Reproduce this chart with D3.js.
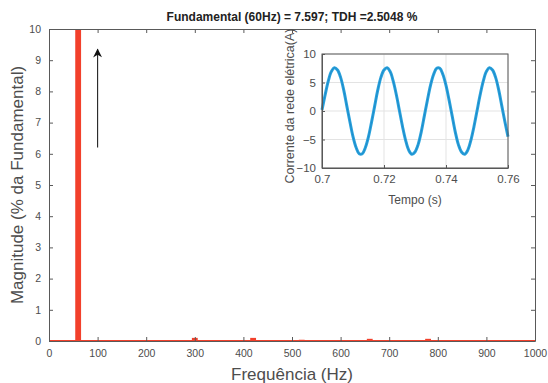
<!DOCTYPE html>
<html>
<head>
<meta charset="utf-8">
<style>
  body { margin: 0; background: #fff; }
  svg text { font-family: "Liberation Sans", Arial, sans-serif; }
</style>
</head>
<body>
  <div id="chart"></div>
  <script src="https://cdn.jsdelivr.net/npm/d3@7"></script>
  <script>
    // espectro harmonico (Hz, % da fundamental)
    var freqs = [20, 60, 160, 260, 300, 340, 420, 520, 660, 760, 780, 880, 940];
    var mags = [0.02, 100, 0.02, 0.02, 0.10, 0.02, 0.10, 0.04, 0.07, 0.03, 0.07, 0.03, 0.02];
    var freqTicks = [0, 100, 200, 300, 400, 500, 600, 700, 800, 900, 1000];
    var magTicks = [0, 1, 2, 3, 4, 5, 6, 7, 8, 9, 10];

    // corrente da rede, amostras a cada 1 ms de 0.70 a 0.76 s
    var tempo = d3.range(0, 61).map(function(k){ return +(0.7 + k * 0.001).toFixed(3); });
    var corrente = [0.2, 2.8, 5.2, 6.9, 7.6, 7.2, 5.9, 3.7, 0.9, -1.9,
                    -4.5, -6.4, -7.5, -7.5, -6.4, -4.5, -1.9, 0.9, 3.7, 5.9,
                    7.2, 7.6, 6.9, 5.2, 2.8, 0.0, -2.8, -5.2, -6.9, -7.6,
                    -7.2, -5.9, -3.7, -0.9, 1.9, 4.5, 6.4, 7.5, 7.5, 6.4,
                    4.5, 1.9, -0.9, -3.7, -5.9, -7.2, -7.6, -6.9, -5.2, -2.8,
                    0.0, 2.8, 5.2, 6.9, 7.6, 7.2, 5.9, 3.7, 0.9, -1.9, -4.5];
    var tempoTicks = [0.7, 0.72, 0.74, 0.76];
    var correnteTicks = [-10, -5, 0, 5, 10];

    var width = 548, height = 383;
    var axisColor = '#595959', labelColor = '#4d4d4d';

    var svg = d3.select('#chart').append('svg')
      .attr('width', width)
      .attr('height', height);

    // ---- grafico principal ----
    var mL = 49, mR = 535, mT = 29, mB = 341;
    var x = d3.scaleLinear().domain([0, 1000]).range([mL, mR]);
    var y = d3.scaleLinear().domain([0, 10]).range([mB, mT]);

    svg.append('clipPath').attr('id', 'mainclip')
      .append('rect').attr('x', mL).attr('y', mT)
      .attr('width', mR - mL).attr('height', mB - mT);

    var barW = x(12) - x(0);
    svg.append('g').attr('clip-path', 'url(#mainclip)')
      .selectAll('rect')
      .data(freqs)
      .enter()
      .append('rect')
      .attr('x', function(d){ return x(d) - barW / 2; })
      .attr('width', barW)
      .attr('y', function(d, i){ return y(Math.min(mags[i], 10.5)); })
      .attr('height', function(d, i){ return y(0) - y(Math.min(mags[i], 10.5)); })
      .attr('fill', '#f2402b');

    // linha de base vermelha
    svg.append('line')
      .attr('x1', x(0)).attr('x2', x(1000))
      .attr('y1', y(0) - 0.5).attr('y2', y(0) - 0.5)
      .attr('stroke', '#f2402b').attr('stroke-width', 1.2);

    var xAxis = d3.axisBottom(x).tickValues(freqTicks).tickSizeInner(-4).tickSizeOuter(0).tickPadding(9).tickFormat(d3.format('d'));
    var yAxis = d3.axisLeft(y).tickValues(magTicks).tickSizeInner(-4).tickSizeOuter(0).tickPadding(8);

    svg.append('g').attr('transform', 'translate(0,' + mB + ')').call(xAxis);
    svg.append('g').attr('transform', 'translate(' + mL + ',0)').call(yAxis);
    svg.append('g').attr('transform', 'translate(0,' + mT + ')')
      .call(d3.axisTop(x).tickValues(freqTicks).tickSizeInner(-4).tickSizeOuter(0).tickFormat(''));
    svg.append('g').attr('transform', 'translate(' + mR + ',0)')
      .call(d3.axisRight(y).tickValues(magTicks).tickSizeInner(-4).tickSizeOuter(0).tickFormat(''));

    svg.selectAll('.domain').attr('stroke', axisColor);
    svg.selectAll('.tick line').attr('stroke', axisColor);
    svg.selectAll('.tick text').attr('fill', labelColor).style('font-size', '10.5px');

    // seta
    svg.append('defs').append('marker')
      .attr('id', 'head').attr('viewBox', '0 0 10 10')
      .attr('refX', 9).attr('refY', 5)
      .attr('markerWidth', 10).attr('markerHeight', 9)
      .attr('markerUnits', 'userSpaceOnUse')
      .attr('orient', 'auto')
      .append('path').attr('d', 'M0,0 L10,5 L0,10 L3,5 z').attr('fill', '#111');
    svg.append('line')
      .attr('x1', x(100)).attr('x2', x(100))
      .attr('y1', y(6.2)).attr('y2', y(9.35))
      .attr('stroke', '#222').attr('stroke-width', 1.1)
      .attr('marker-end', 'url(#head)');

    svg.append('text')
      .attr('x', (mL + mR) / 2).attr('y', 21)
      .attr('text-anchor', 'middle')
      .style('font-size', '12px').style('font-weight', 'bold')
      .attr('fill', '#222')
      .text('Fundamental (60Hz) = 7.597; TDH =2.5048 %');

    svg.append('text')
      .attr('x', (mL + mR) / 2).attr('y', 380)
      .attr('text-anchor', 'middle')
      .style('font-size', '17px')
      .attr('fill', labelColor)
      .text('Frequência (Hz)');

    svg.append('text')
      .attr('transform', 'translate(23,' + (mT + mB) / 2 + ') rotate(-90)')
      .attr('text-anchor', 'middle')
      .style('font-size', '17px')
      .attr('fill', labelColor)
      .text('Magnitude (% da Fundamental)');

    // ---- grafico interno ----
    var iL = 322, iR = 508, iT = 54, iB = 168;
    var xi = d3.scaleLinear().domain([0.7, 0.76]).range([iL, iR]);
    var yi = d3.scaleLinear().domain([-10, 10]).range([iB, iT]);

    var inset = svg.append('g');
    inset.append('rect').attr('x', iL).attr('y', iT)
      .attr('width', iR - iL).attr('height', iB - iT).attr('fill', '#fff');

    // grade
    inset.selectAll('.gx').data(tempoTicks).enter().append('line')
      .attr('x1', function(d){ return xi(d); }).attr('x2', function(d){ return xi(d); })
      .attr('y1', iT).attr('y2', iB).attr('stroke', '#e3e3e3');
    inset.selectAll('.gy').data(correnteTicks).enter().append('line')
      .attr('y1', function(d){ return yi(d); }).attr('y2', function(d){ return yi(d); })
      .attr('x1', iL).attr('x2', iR).attr('stroke', '#e3e3e3');

    var line = d3.line()
      .x(function(d, i){ return xi(tempo[i]); })
      .y(function(d){ return yi(d); })
      .curve(d3.curveCatmullRom);
    inset.append('path').datum(corrente)
      .attr('d', line).attr('fill', 'none')
      .attr('stroke', '#2aa2dc').attr('stroke-width', 3);
    inset.append('path').datum(corrente)
      .attr('d', line).attr('fill', 'none')
      .attr('stroke', '#1a86c6').attr('stroke-width', 0.8);

    var ixAxis = d3.axisBottom(xi).tickValues(tempoTicks).tickSizeInner(-3).tickSizeOuter(0).tickPadding(7)
      .tickFormat(function(d){ return d === 0.7 ? '0.7' : d3.format('.2f')(d); });
    var iyAxis = d3.axisLeft(yi).tickValues(correnteTicks).tickSizeInner(-3).tickSizeOuter(0).tickPadding(6);
    inset.append('g').attr('transform', 'translate(0,' + iB + ')').call(ixAxis);
    inset.append('g').attr('transform', 'translate(' + iL + ',0)').call(iyAxis);
    inset.append('rect').attr('x', iL).attr('y', iT)
      .attr('width', iR - iL).attr('height', iB - iT)
      .attr('fill', 'none').attr('stroke', axisColor);
    inset.selectAll('.domain').attr('stroke', axisColor);
    inset.selectAll('.tick line').attr('stroke', axisColor);
    inset.selectAll('.tick text').attr('fill', labelColor).style('font-size', '11.5px');

    inset.append('text')
      .attr('x', (iL + iR) / 2).attr('y', 204)
      .attr('text-anchor', 'middle')
      .style('font-size', '12px')
      .attr('fill', labelColor)
      .text('Tempo (s)');

    inset.append('text')
      .attr('transform', 'translate(294,106) rotate(-90)')
      .attr('text-anchor', 'middle')
      .style('font-size', '12.5px')
      .attr('fill', labelColor)
      .text('Corrente da rede elétrica(A)');
  </script>
</body>
</html>
